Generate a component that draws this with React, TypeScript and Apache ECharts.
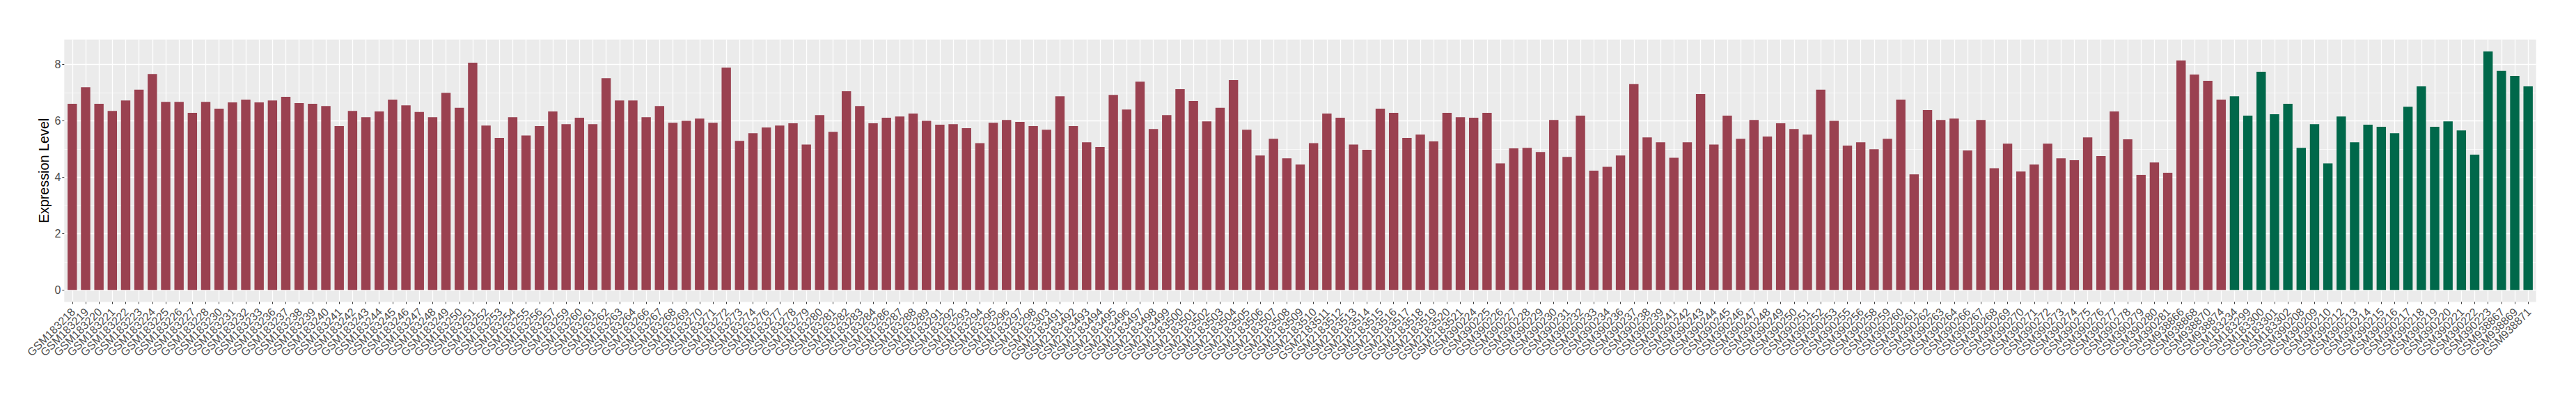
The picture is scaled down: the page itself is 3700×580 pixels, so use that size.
import React, { useEffect, useRef } from "react";
import * as echarts from "echarts";

// Group 1 (red) samples and expression values
const redSamples = [
  "GSM183218", "GSM183219", "GSM183220", "GSM183221", "GSM183222", "GSM183223", "GSM183224",
  "GSM183225", "GSM183226", "GSM183227", "GSM183228", "GSM183230", "GSM183231", "GSM183232",
  "GSM183233", "GSM183236", "GSM183237", "GSM183238", "GSM183239", "GSM183240", "GSM183241",
  "GSM183242", "GSM183243", "GSM183244", "GSM183245", "GSM183246", "GSM183247", "GSM183248",
  "GSM183249", "GSM183250", "GSM183251", "GSM183252", "GSM183253", "GSM183254", "GSM183255",
  "GSM183256", "GSM183257", "GSM183259", "GSM183260", "GSM183261", "GSM183262", "GSM183263",
  "GSM183264", "GSM183266", "GSM183267", "GSM183268", "GSM183269", "GSM183270", "GSM183271",
  "GSM183272", "GSM183273", "GSM183274", "GSM183276", "GSM183277", "GSM183278", "GSM183279",
  "GSM183280", "GSM183281", "GSM183282", "GSM183283", "GSM183284", "GSM183286", "GSM183287",
  "GSM183288", "GSM183289", "GSM183291", "GSM183292", "GSM183293", "GSM183294", "GSM183295",
  "GSM183296", "GSM183297", "GSM183298", "GSM183303",
  "GSM2183491", "GSM2183492", "GSM2183493", "GSM2183494", "GSM2183495", "GSM2183496",
  "GSM2183497", "GSM2183498", "GSM2183499", "GSM2183500", "GSM2183501", "GSM2183502",
  "GSM2183503", "GSM2183504", "GSM2183505", "GSM2183506", "GSM2183507", "GSM2183508",
  "GSM2183509", "GSM2183510", "GSM2183511", "GSM2183512", "GSM2183513", "GSM2183514",
  "GSM2183515", "GSM2183516", "GSM2183517", "GSM2183518", "GSM2183519", "GSM2183520",
  "GSM2183521",
  "GSM390224", "GSM390225", "GSM390226", "GSM390227", "GSM390228", "GSM390229", "GSM390230",
  "GSM390231", "GSM390232", "GSM390233", "GSM390234", "GSM390236", "GSM390237", "GSM390238",
  "GSM390239", "GSM390241", "GSM390242", "GSM390243", "GSM390244", "GSM390245", "GSM390246",
  "GSM390247", "GSM390248", "GSM390249", "GSM390250", "GSM390251", "GSM390252", "GSM390253",
  "GSM390255", "GSM390256", "GSM390258", "GSM390259", "GSM390260", "GSM390261", "GSM390262",
  "GSM390263", "GSM390264", "GSM390266", "GSM390267", "GSM390268", "GSM390269", "GSM390270",
  "GSM390271", "GSM390272", "GSM390273", "GSM390274", "GSM390275", "GSM390276", "GSM390277",
  "GSM390278", "GSM390279", "GSM390280", "GSM390281",
  "GSM938866", "GSM938868", "GSM938870", "GSM938874",
];

const redValues = [
  6.60, 7.19, 6.60, 6.35, 6.72, 7.10, 7.66, 6.67, 6.67, 6.28, 6.67, 6.43, 6.65,
  6.75, 6.65, 6.72, 6.85, 6.63, 6.60, 6.52, 5.81, 6.35, 6.13, 6.33, 6.75, 6.55, 6.31, 6.13, 6.99, 6.46,
  8.06, 5.83, 5.39, 6.13, 5.48, 5.81, 6.33, 5.88, 6.11, 5.88, 7.51, 6.72, 6.72, 6.13, 6.52, 5.93, 6.00, 6.08,
  5.93, 7.89, 5.29, 5.56, 5.76, 5.83, 5.91, 5.16, 6.20, 5.61, 7.05, 6.52, 5.91, 6.11, 6.15, 6.26, 6.00,
  5.86, 5.88, 5.74, 5.21, 5.93, 6.03, 5.96, 5.81, 5.68, 6.87, 5.81, 5.24, 5.07, 6.92, 6.40, 7.39, 5.71,
  6.20, 7.12, 6.70, 5.98, 6.46, 7.44, 5.68, 4.77, 5.36, 4.67, 4.45, 5.21, 6.26, 6.11, 5.16, 4.97, 6.43,
  6.28, 5.39, 5.51, 5.27, 6.28, 6.13, 6.11, 6.28, 4.49, 5.02, 5.04, 4.89, 6.03, 4.72, 6.18, 4.23, 4.37,
  4.77, 7.30, 5.41, 5.24, 4.69, 5.24, 6.95, 5.16, 6.18, 5.36, 6.03, 5.44, 5.91, 5.71, 5.51, 7.10, 6.00, 5.12,
  5.24, 4.99, 5.36, 6.75, 4.10, 6.38, 6.03, 6.08, 4.95, 6.03, 4.32, 5.19, 4.20, 4.45, 5.19, 4.67, 4.60,
  5.41, 4.75, 6.33, 5.34, 4.08, 4.52, 4.16, 8.14, 7.64, 7.42, 6.75,
];

// Group 2 (green) samples and expression values
const greenSamples = [
  "GSM183234", "GSM183299", "GSM183300", "GSM183301", "GSM183302",
  "GSM390208", "GSM390209", "GSM390210", "GSM390212", "GSM390213", "GSM390214", "GSM390215",
  "GSM390216", "GSM390217", "GSM390218", "GSM390219", "GSM390220", "GSM390221", "GSM390222",
  "GSM390223", "GSM938867", "GSM938869", "GSM938871",
];

const greenValues = [
  6.87, 6.18, 7.74, 6.23, 6.60, 5.04, 5.88, 4.49, 6.15, 5.24, 5.86, 5.79,
  5.56, 6.50, 7.22, 5.79, 5.98, 5.66, 4.80, 8.46, 7.77, 7.59, 7.22,
];

const yMajorTicks = [0, 2, 4, 6, 8];
const yMinorTicks = [1, 3, 5, 7];

const RED = "#9A4150";
const GREEN = "#00684A";

export default function App() {
  const ref = useRef<HTMLDivElement>(null);

  useEffect(() => {
    document.body.style.margin = "0";
    const el = ref.current;
    if (!el) return;
    const chart = echarts.init(el, null, { renderer: "svg" });

    const categories = [...redSamples, ...greenSamples];
    const values = [...redValues, ...greenValues];
    const n = categories.length;
    const yMax = Math.max(...values);
    const yPad = yMax * 0.05;
    const xMin = -0.6;
    const xMax = n - 1 + 0.6;
    const grid = { left: 92.3, right: 57.3, top: 56.7, bottom: 146.6 };
    const plotW = 3700 - grid.left - grid.right;
    const barWidth = (0.7 * plotW) / (n + 0.2);
    // edge values (hidden) guard the real first/last labels from min/max overlap hiding
    const xTickValues = [xMin, ...categories.map((_, i) => i), xMax];

    const yBase = {
      type: "value" as const,
      min: -yPad,
      max: yMax + yPad,
      position: "left" as const,
      axisLine: { show: false, onZero: false },
    };

    chart.setOption({
      animation: false,
      textStyle: { fontFamily: "Liberation Sans, Arial, sans-serif" },
      grid: {
        ...grid,
        show: true,
        backgroundColor: "#EBEBEB",
        borderWidth: 0,
        containLabel: false,
      },
      xAxis: {
        type: "value",
        min: xMin,
        max: xMax,
        axisLine: { show: false, onZero: false },
        axisTick: {
          show: true,
          customValues: xTickValues,
          length: 3,
          lineStyle: { color: "#333333", width: 1 },
        },
        axisLabel: {
          customValues: xTickValues,
          showMinLabel: false,
          showMaxLabel: false,
          hideOverlap: false,
          rotate: 45,
          margin: 1.8,
          align: "right",
          verticalAlign: "top",
          padding: [0, 6, 0, 0],
          fontSize: 16,
          color: "#4D4D4D",
          formatter: (v: number) =>
            Number.isInteger(v) && categories[v] !== undefined ? categories[v] : " ",
        },
        splitLine: {
          show: true,
          showMinLine: false,
          showMaxLine: false,
          lineStyle: { color: "#FFFFFF", width: 1.3 },
        },
      },
      yAxis: [
        {
          ...yBase,
          name: "Expression Level",
          nameLocation: "middle",
          nameGap: 19,
          nameMoveOverlap: false,
          nameTextStyle: { fontSize: 19.8, color: "#000000" },
          axisTick: {
            show: true,
            customValues: yMajorTicks,
            length: 3,
            lineStyle: { color: "#333333", width: 1 },
          },
          axisLabel: {
            customValues: yMajorTicks,
            margin: 5,
            fontSize: 16,
            color: "#4D4D4D",
          },
          splitLine: { show: true, lineStyle: { color: "#FFFFFF", width: 1.3 } },
        },
        {
          ...yBase,
          axisTick: { show: false, customValues: yMinorTicks },
          axisLabel: { show: false, customValues: yMinorTicks },
          splitLine: { show: true, lineStyle: { color: "#FFFFFF", width: 0.65 } },
        },
      ],
      series: [
        {
          type: "bar",
          xAxisIndex: 0,
          yAxisIndex: 0,
          barWidth,
          silent: true,
          data: values.map((v, i) => ({
            value: [i, v],
            itemStyle: { color: i < redSamples.length ? RED : GREEN },
          })),
        },
      ],
    });

    return () => chart.dispose();
  }, []);

  return <div ref={ref} style={{ width: 3700, height: 580 }} />;
}
